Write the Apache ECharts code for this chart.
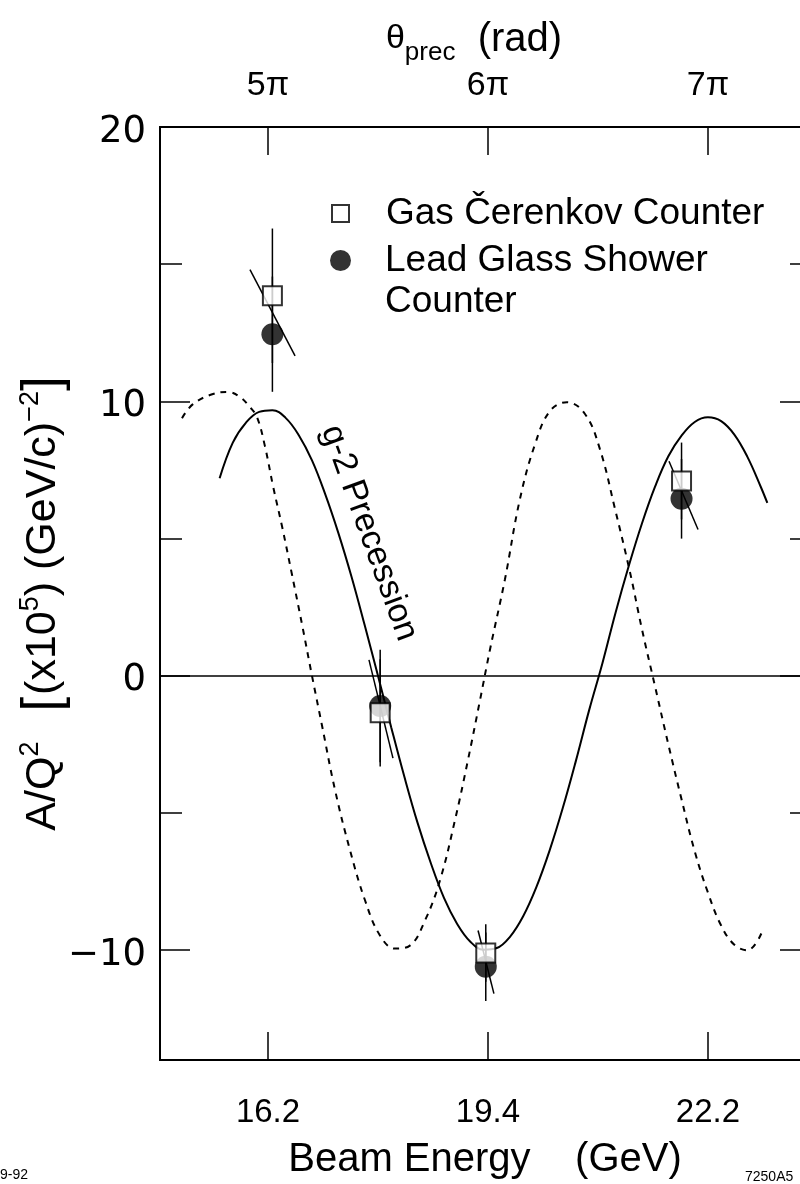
<!DOCTYPE html>
<html><head><meta charset="utf-8">
<script src="https://cdn.jsdelivr.net/npm/echarts@6/dist/echarts.min.js"></script>
<style>html,body{margin:0;padding:0;background:#fff}#c{width:800px;height:1184px}</style>
</head><body><div id="c"></div>
<script>
// ---- data (x in units of pi of the precession angle) ----
const thetaTicks = [5, 6, 7];
const thetaLabels = ['5π', '6π', '7π'];
const energyLabels = ['16.2', '19.4', '22.2'];
const yMajorTicks = [-10, 0, 10, 20];
const yMinorTicks = [-5, 5, 15];

const gasTheta = [5.02, 5.51, 5.99, 6.88];
const gasValue = [13.85, -1.35, -10.1, 7.1];
const gasError = [2.45, 1.95, 1.05, 1.4];

const leadTheta = [5.02, 5.51, 5.99, 6.88];
const leadValue = [12.45, -1.1, -10.6, 6.45];
const leadError = [2.1, 2.05, 1.25, 1.45];

const slopeTheta1 = [4.918, 5.459, 5.955, 6.823];
const slopeValue1 = [14.8, 0.58, -9.28, 7.82];
const slopeTheta2 = [5.123, 5.568, 6.027, 6.955];
const slopeValue2 = [11.66, -3.0, -11.58, 5.33];

const precTheta = [4.78,4.84,4.90,4.96,5.02,5.08,5.14,5.20,5.26,5.32,5.38,5.44,5.50,5.56,5.62,5.68,5.74,5.80,5.86,5.92,5.98,6.04,6.10,6.16,6.22,6.28,6.34,6.40,6.46,6.52,6.58,6.64,6.70,6.76,6.82,6.88,6.94,7.00,7.06,7.12,7.18,7.24,7.27];
const precValue = [7.2,8.5,9.23,9.62,9.68,9.4,8.77,7.85,6.62,5.2,3.6,1.83,0,-1.87,-3.68,-5.36,-6.82,-8.09,-9.04,-9.69,-9.98,-9.92,-9.51,-8.76,-7.7,-6.37,-4.82,-3.09,-1.25,0.45,2.3,4.0,5.55,6.9,8.0,8.75,9.25,9.42,9.28,8.79,7.97,6.89,6.3];

const dashTheta = [4.609,4.659,4.75,4.818,4.873,4.918,4.95,4.986,5.023,5.064,5.109,5.155,5.2,5.245,5.305,5.373,5.441,5.509,5.577,5.645,5.714,5.782,5.85,5.909,5.964,6.009,6.077,6.145,6.214,6.282,6.359,6.441,6.509,6.577,6.645,6.70,6.76,6.82,6.88,6.94,7.00,7.06,7.12,7.18,7.245];
const dashValue = [9.39,9.9,10.27,10.34,10.16,9.79,9.43,8.37,6.91,5.44,3.69,1.86,0,-1.79,-4.17,-6.36,-8.18,-9.46,-9.94,-9.83,-8.91,-7.45,-5.26,-3.07,-0.88,0.95,3.51,6.43,8.44,9.65,9.97,9.54,8.26,6.1,3.8,1.7,-0.4,-2.5,-4.5,-6.4,-7.9,-9.1,-9.8,-10.0,-9.35];

// ---- chart ----
const FONT = 'Liberation Sans';
const X_MIN = 4.509, X_MAX = 7.464;
const chart = echarts.init(document.getElementById('c'), null, {renderer: 'canvas'});

const zip = (a, b) => a.map((v, i) => [v, b[i]]);
const signed = v => '{a|' + (v < 0 ? '\u2212' + Math.abs(v) : String(v)) + '}';

const segRender = (params, api) => {
  const p1 = api.coord([api.value(0), api.value(1)]);
  const p2 = api.coord([api.value(2), api.value(3)]);
  return {type: 'line', shape: {x1: p1[0], y1: p1[1], x2: p2[0], y2: p2[1]},
          style: {stroke: '#000', lineWidth: 1.5}};
};
const errData = (t, v, e) => t.map((x, i) => [x, v[i] - e[i], x, v[i] + e[i]]);

const xBase = {
  type: 'value', min: X_MIN, max: X_MAX,
  axisLine: {show: true, onZero: false, lineStyle: {color: '#000', width: 2}},
  axisTick: {show: true, inside: true, length: 28, customValues: thetaTicks, lineStyle: {color: '#000', width: 1.5}},
  splitLine: {show: false}
};
const yBase = {
  type: 'value', min: -14, max: 20,
  axisLine: {show: true, lineStyle: {color: '#000', width: 2}},
  splitLine: {show: false}
};

chart.setOption({
  animation: false,
  backgroundColor: '#fff',
  grid: {left: 160, top: 127, right: -10, bottom: 124, containLabel: false, outerBoundsMode: 'none'},
  legend: [
    {data: ['Gas Čerenkov Counter'], left: 331, top: 195, padding: 0, orient: 'vertical', selectedMode: false,
     icon: 'rect', itemWidth: 17, itemHeight: 17,
     textStyle: {fontFamily: FONT, fontSize: 37, color: '#000', padding: [0, 0, 0, 32]}},
    {data: ['Lead Glass Shower Counter'], left: 330, top: 199, padding: 0, orient: 'vertical', selectedMode: false,
     icon: 'circle', itemWidth: 21, itemHeight: 21,
     formatter: () => '\u00a0\nLead Glass Shower\nCounter',
     textStyle: {fontFamily: FONT, fontSize: 37, lineHeight: 41, color: '#000', padding: [0, 0, 0, 29]}}
  ],
  xAxis: [
    Object.assign({}, xBase, {
      position: 'bottom',
      axisLabel: {customValues: thetaTicks, margin: 36, fontFamily: FONT, fontSize: 33, color: '#000',
                  formatter: v => energyLabels[thetaTicks.indexOf(Math.round(v))]},
      name: 'Beam Energy    (GeV)', nameLocation: 'middle', nameGap: 80, nameMoveOverlap: false,
      nameTextStyle: {fontFamily: FONT, fontSize: 40, color: '#000'}
    }),
    Object.assign({}, xBase, {
      position: 'top',
      axisLabel: {customValues: thetaTicks, margin: 24, fontFamily: FONT, fontSize: 34, color: '#000',
                  formatter: v => thetaLabels[thetaTicks.indexOf(Math.round(v))]},
      name: '{th|θ}{sub|prec}{t|  (rad)}', nameLocation: 'middle', nameGap: 61, nameMoveOverlap: false,
      nameTextStyle: {fontFamily: FONT, color: '#000',
        rich: {th: {fontFamily: FONT, fontSize: 34, color: '#000', verticalAlign: 'bottom', lineHeight: 46, padding: [0, 0, 10, 0]},
               t: {fontFamily: FONT, fontSize: 40, color: '#000', verticalAlign: 'bottom', lineHeight: 46, padding: [0, 22, 6, 0]},
               sub: {fontFamily: FONT, fontSize: 26, color: '#000', verticalAlign: 'bottom', lineHeight: 46}}}
    })
  ],
  yAxis: [
    Object.assign({}, yBase, {
      position: 'left',
      axisTick: {show: true, inside: true, length: 30, customValues: yMajorTicks, lineStyle: {color: '#000', width: 1.5}},
      axisLabel: {customValues: yMajorTicks, margin: 14, color: '#000', formatter: signed,
                  rich: {a: {fontFamily: 'DejaVu Sans', fontSize: 37, color: '#000', padding: [10, 0, 0, 0]}}},
      name: '{t|A/Q}{sup|2}{sp|}{br|[}{t|(x10}{sup|5}{t|) (GeV/c)}{sup|−2}{br2|]}',
      nameLocation: 'middle', nameRotate: 90, nameGap: 86, nameMoveOverlap: false,
      nameTextStyle: {fontFamily: FONT, color: '#000',
        rich: {t: {fontFamily: FONT, fontSize: 43, color: '#000', verticalAlign: 'bottom', lineHeight: 60, padding: [0, 0, 9, 0]},
               sp: {fontFamily: FONT, fontSize: 43, verticalAlign: 'bottom', lineHeight: 60, padding: [0, 30, 0, 0]},
               sup: {fontFamily: FONT, fontSize: 27, color: '#000', verticalAlign: 'bottom', lineHeight: 60, padding: [0, 0, 30, 0]},
               br: {fontFamily: FONT, fontSize: 53, color: '#000', verticalAlign: 'bottom', lineHeight: 60, padding: [0, 2, 3, 0]},
               br2: {fontFamily: FONT, fontSize: 53, color: '#000', verticalAlign: 'bottom', lineHeight: 60, padding: [0, 20, 3, 0]}}}
    }),
    Object.assign({}, yBase, {
      position: 'left',
      axisTick: {show: true, inside: true, length: 22, customValues: yMinorTicks, lineStyle: {color: '#000', width: 1.5}},
      axisLabel: {show: false}
    }),
    Object.assign({}, yBase, {
      position: 'right',
      axisTick: {show: true, inside: true, length: 30, customValues: yMajorTicks, lineStyle: {color: '#000', width: 1.5}},
      axisLabel: {show: false}
    }),
    Object.assign({}, yBase, {
      position: 'right',
      axisTick: {show: true, inside: true, length: 20, customValues: yMinorTicks, lineStyle: {color: '#000', width: 1.5}},
      axisLabel: {show: false}
    })
  ],
  graphic: [
    {type: 'text', x: 369, y: 533, rotation: -1.222, silent: true,
     style: {text: 'g-2 Precession', font: '34px "Liberation Sans"', fill: '#000', align: 'center', verticalAlign: 'middle'}},
    {type: 'text', x: 0, y: 1168, silent: true,
     style: {text: '9-92', font: '14px "Liberation Sans"', fill: '#000'}},
    {type: 'text', x: 745, y: 1170, silent: true,
     style: {text: '7250A5', font: '14px "Liberation Sans"', fill: '#000'}}
  ],
  series: [
    {type: 'line', name: 'g-2 Precession', data: zip(precTheta, precValue), smooth: 0.4, symbol: 'none',
     lineStyle: {color: '#000', width: 2}, z: 2,
     markLine: {silent: true, symbol: 'none', label: {show: false},
                lineStyle: {color: '#000', width: 1.5, type: 'solid'}, data: [{yAxis: 0}]}},
    {type: 'line', name: 'dashed', data: zip(dashTheta, dashValue), smooth: 0.4, symbol: 'none',
     lineStyle: {color: '#000', width: 2, type: [6, 6]}, z: 2},
    {type: 'custom', name: 'slopes', renderItem: segRender,
     data: slopeTheta1.map((t, i) => [t, slopeValue1[i], slopeTheta2[i], slopeValue2[i]]),
     encode: {x: [0, 2], y: [1, 3]}, z: 3},
    {type: 'custom', name: 'gasErr', renderItem: segRender, data: errData(gasTheta, gasValue, gasError),
     encode: {x: [0, 2], y: [1, 3]}, z: 3},
    {type: 'custom', name: 'leadErr', renderItem: segRender, data: errData(leadTheta, leadValue, leadError),
     encode: {x: [0, 2], y: [1, 3]}, z: 3},
    {type: 'scatter', name: 'Lead Glass Shower Counter', data: zip(leadTheta, leadValue),
     symbol: 'circle', symbolSize: 22, itemStyle: {color: '#000'}, z: 4},
    {type: 'scatter', name: 'Gas Čerenkov Counter', data: zip(gasTheta, gasValue),
     symbol: 'rect', symbolSize: 19, itemStyle: {color: '#fff', borderColor: '#000', borderWidth: 2}, z: 5}
  ]
});
</script></body></html>
